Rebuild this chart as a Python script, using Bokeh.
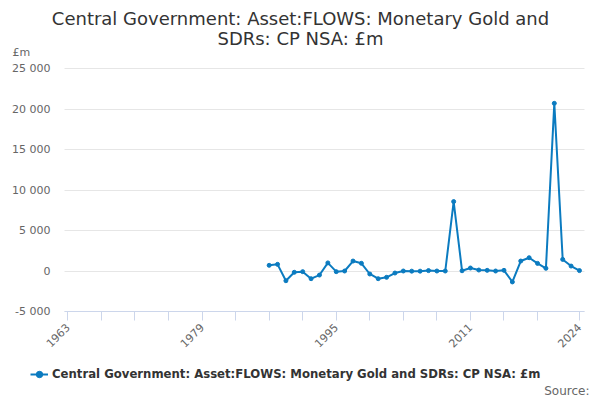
from bokeh.embed import file_html
from bokeh.resources import INLINE
from bokeh.models import (ColumnDataSource, FixedTicker, Label, Legend, LegendItem, Range1d)
from bokeh.plotting import figure
import math

# data: annual flows, £m
years = list(range(1987, 2025))
values = [700, 820, -1200, -160, -80, -950, -500, 1000, -80, 0,
          1230, 950, -370, -950, -780, -250, 0, -20, -20, 50,
          0, 0, 8570, 30, 370, 120, 80, 0, 80, -1350,
          1230, 1640, 940, 330, 20700, 1430, 610, 50]

x_labels = [1963, 1979, 1995, 2011, 2024]
x_minor = [1967, 1971, 1975, 1983, 1987, 1991, 1999, 2003, 2007, 2015, 2019]
y_ticks = [-5000, 0, 5000, 10000, 15000, 20000, 25000]

title_1 = "Central Government: Asset:FLOWS: Monetary Gold and"
title_2 = "SDRs: CP NSA: £m"
series_name = "Central Government: Asset:FLOWS: Monetary Gold and SDRs: CP NSA: £m"

FONT = "DejaVu Sans"
BLUE = "#0b7bc0"

W, H = 600, 400
# plot area inside the canvas (pixels): left, right, top (25 000), bottom (-5 000)
PL, PR, PT, PB = 64, 584, 68, 311
x_lo, x_hi = 1962.6, 2024.6
y_lo, y_hi = -5000, 25000
sx = (PR - PL) / (x_hi - x_lo)
sy = (PB - PT) / (y_hi - y_lo)

source = ColumnDataSource(data=dict(year=years, value=values))

# the frame fills the whole canvas; axes are pinned at the plot-area edges
p = figure(width=W, height=H, output_backend="svg", toolbar_location=None,
           x_range=Range1d(x_lo - PL / sx, x_hi + (W - PR) / sx),
           y_range=Range1d(y_lo - (H - PB) / sy, y_hi + PT / sy),
           min_border=0)
p.outline_line_color = None

line = p.line('year', 'value', source=source, line_color=BLUE, line_width=2)
dots = p.scatter('year', 'value', source=source, size=4, fill_color=BLUE, line_color=BLUE)

# x axis
p.xaxis.fixed_location = y_lo
p.xaxis.bounds = (x_lo, x_hi)
p.xaxis.ticker = FixedTicker(ticks=x_labels, minor_ticks=x_minor)
p.xaxis.axis_line_color = "#ccd6eb"
p.xaxis.major_tick_line_color = "#ccd6eb"
p.xaxis.minor_tick_line_color = "#ccd6eb"
p.xaxis.major_tick_in = 0
p.xaxis.major_tick_out = 9
p.xaxis.minor_tick_in = 0
p.xaxis.minor_tick_out = 9
p.xaxis.major_label_orientation = math.pi / 4
p.xaxis.major_label_text_font = FONT
p.xaxis.major_label_text_font_size = "11px"
p.xaxis.major_label_text_color = "#666666"
p.xaxis.major_label_standoff = 5
p.xgrid.grid_line_color = None

# y axis
p.yaxis.fixed_location = x_lo
p.yaxis.ticker = FixedTicker(ticks=y_ticks)
p.yaxis.major_label_overrides = {t: f"{t:,}".replace(",", " ") for t in y_ticks}
p.yaxis.axis_line_color = None
p.yaxis.major_tick_line_color = None
p.yaxis.minor_tick_line_color = None
p.yaxis.major_label_text_font = FONT
p.yaxis.major_label_text_font_size = "11px"
p.yaxis.major_label_text_color = "#666666"
p.yaxis.major_label_standoff = 8
p.ygrid.ticker = FixedTicker(ticks=y_ticks)
p.ygrid.cross_bounds = (x_lo, x_hi)
p.ygrid.grid_line_color = "#e6e6e6"

# texts (screen units: from the bottom-left of the canvas)
def note(txt, x, y, size, color, align, style="normal"):
    p.add_layout(Label(x=x, y=H - y, x_units="screen", y_units="screen", text=txt,
                       text_font=FONT, text_font_size=size, text_color=color,
                       text_font_style=style, text_align=align, text_baseline="middle"))

note(title_1, 300, 18, "18px", "#333333", "center")
note(title_2, 300, 38, "18px", "#333333", "center")
note("£m", 12, 52, "11px", "#666666", "left")
note("Source:", 589, 390, "12px", "#666666", "right")

legend = Legend(items=[LegendItem(label=series_name, renderers=[line, dots])],
                location=(30, H - 382), orientation="horizontal",
                label_text_font=FONT, label_text_font_size="11.7px",
                label_text_font_style="bold", label_text_color="#333333",
                glyph_width=18, glyph_height=16, label_standoff=4,
                padding=0, margin=0, border_line_color=None,
                background_fill_alpha=0)
p.add_layout(legend)

open("out.html", "w").write(file_html(p, INLINE))
